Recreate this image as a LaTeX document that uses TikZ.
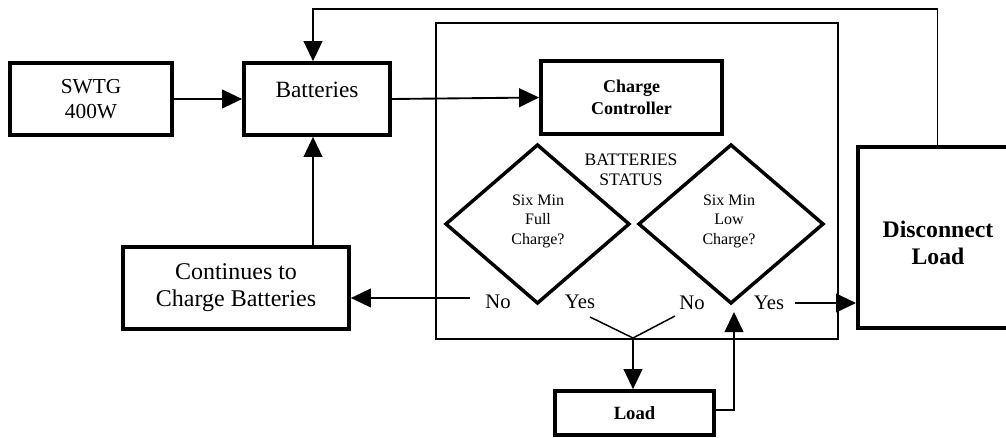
\documentclass[tikz,border=0pt]{standalone}
\usepackage{fontspec}
\setmainfont{Liberation Serif}
\usetikzlibrary{arrows.meta,shapes.geometric}
\begin{document}
\begin{tikzpicture}[x=0.75pt,y=-0.75pt,
  box/.style={draw,line width=2.8pt,inner sep=0pt,align=center},
  conn/.style={line width=1.4pt},
  thin/.style={line width=1.1pt},
  arr/.style={conn,-{Triangle[length=15pt,width=14pt]}},
  dia/.style={draw,diamond,line width=2.6pt,inner sep=0pt,outer sep=0pt},
  lbl/.style={inner sep=0pt,align=center},
  big/.style={font=\fontsize{18}{20.25}\selectfont},
  yn/.style={lbl,font=\fontsize{15.5}{18}\selectfont},
  small/.style={lbl,font=\fontsize{12}{14.6}\selectfont}]
\useasboundingbox (0,0) rectangle (1006,438);

% outer frame
\node[draw,line width=1pt,inner sep=0pt,minimum width=301.5pt,minimum height=237pt] (ctrl) at (637,181) {};

% boxes
\node[box,minimum width=121.5pt,minimum height=54pt,font=\fontsize{16}{18.75}\selectfont] (swtg) at (91,99) {SWTG\\400W};
\node[box,minimum width=109.5pt,minimum height=54pt,
  label={[lbl,font=\fontsize{17.5}{20}\selectfont,yshift=6.75pt]center:Batteries}] (batt) at (317,99) {};
\node[box,minimum width=135.75pt,minimum height=54.75pt,font=\bfseries\fontsize{13.5}{16.5}\selectfont] (cc) at (631.5,97.5) {Charge\\Controller};
\node[box,minimum width=169.5pt,minimum height=61.5pt,big] (cont) at (236,288) {Continues to\\Charge Batteries};
\node[box,minimum width=119.25pt,minimum height=33pt,font=\bfseries\fontsize{14}{16}\selectfont] (load) at (634.5,413) {Load};
\node[box,line width=3pt,minimum width=120pt,minimum height=135.75pt,
  label={[lbl,font=\bfseries\fontsize{17.8}{20.25}\selectfont,yshift=-3.75pt]center:Disconnect\\Load}] (disc) at (938,237.5) {};

% diamonds
\node[dia,minimum width=137.25pt,minimum height=118.5pt] (d1) at (537.5,224) {};
\node[dia,minimum width=138pt,minimum height=118.5pt] (d2) at (731,224) {};
\node[small] (d1t) at (538,221) {Six Min\\Full\\Charge?};
\node[small] (d2t) at (729,221) {Six Min\\Low\\Charge?};
\node[lbl,font=\fontsize{13.2}{15}\selectfont] (bs) at (631,170) {BATTERIES\\STATUS};

% yes / no labels
\node[yn] (no1) at (498,302) {No};
\node[yn] (yes1) at (580,302) {Yes};
\node[yn] (no2) at (692,303) {No};
\node[yn] (yes2) at (769,303) {Yes};

% coordinates
\coordinate (fbl) at (313,9);
\coordinate (fbr) at (937.5,9);
\coordinate (no1s) at (470,298);
\coordinate (yes2s) at (795,303);
\coordinate (ya) at (590,317);
\coordinate (yb) at (675,316);
\coordinate (ym) at (633,338);
\coordinate (lowx) at (734,410);
\coordinate (lowin) at (734,312);

% connectors
\draw[arr] (swtg.east) -- (batt.west);
\draw[arr] (batt.east) -- (cc.west);
\draw[arr] (cont.north -| fbl) -- (batt.south -| fbl);
\draw[arr] (disc.north -| fbr) -- (fbr) -- (fbl) -- (batt.north -| fbl);
\draw[arr] (no1s) -- (no1s -| cont.east);
\draw[arr] (yes2s) -- (yes2s -| disc.west);
\draw[thin] (ya) -- (ym) -- (yb);
\draw[arr] (ym) -- (ym |- load.north);
\draw[arr] (load.east |- lowx) -- (lowx) -- (lowin);
\end{tikzpicture}
\end{document}
